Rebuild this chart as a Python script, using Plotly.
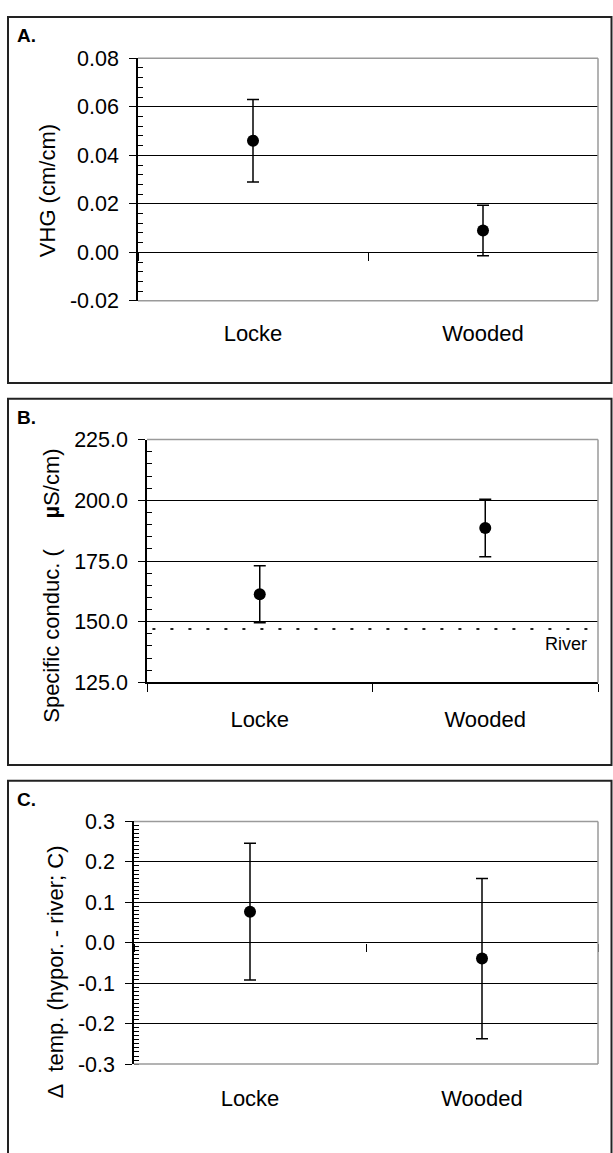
import plotly.graph_objects as go

# ---------------- data ----------------
categories = ["Locke", "Wooded"]

vhg_mean = [0.046, 0.009]
vhg_err = [0.017, 0.0104]

cond_mean = [161.3, 188.6]
cond_err = [11.7, 11.8]
river_cond = 147.0

dtemp_mean = [0.077, -0.039]
dtemp_err = [0.169, 0.198]

vhg_ticks = [-0.02, 0.00, 0.02, 0.04, 0.06, 0.08]
vhg_ticktext = ["-0.02", "0.00", "0.02", "0.04", "0.06", "0.08"]
cond_ticks = [125.0, 150.0, 175.0, 200.0, 225.0]
cond_ticktext = ["125.0", "150.0", "175.0", "200.0", "225.0"]
dtemp_ticks = [-0.3, -0.2, -0.1, 0.0, 0.1, 0.2, 0.3]
dtemp_ticktext = ["-0.3", "-0.2", "-0.1", "0.0", "0.1", "0.2", "0.3"]

panel_labels = ["A.", "B.", "C."]
y_titles = [
    "VHG (cm/cm)",
    "Specific conduc. (\u00a0\u00a0\u00a0\u00a0\u00a0<b>\u00b5</b>S/cm)",
    "\u0394\u00a0\u00a0temp. (hypor. - river; C)",
]
y_ranges = [[-0.02, 0.08], [125.0, 225.0], [-0.3, 0.3]]
y_minor = [0.004, 5.0, 0.01]

# ---------------- layout geometry (pixels) ----------------
W, H = 613, 1153
FONT = "Liberation Sans, Arial, sans-serif"


def px(x):
    return x / W


def py(y):
    return 1 - y / H


plot_boxes = [  # left, right, top, bottom in px
    (138, 598, 48.3, 296.0),
    (147, 598, 437.7, 685.7),
    (134, 598, 827.7, 1075.5),
]
frame_tops = [6, 396, 786]
frame_bottoms = [380, 770, 1170]
title_centers = [(47, 184), (52, 587), (56, 982)]

fig = go.Figure()

means = [vhg_mean, cond_mean, dtemp_mean]
errs = [vhg_err, cond_err, dtemp_err]
tickvals = [vhg_ticks, cond_ticks, dtemp_ticks]
ticktexts = [vhg_ticktext, cond_ticktext, dtemp_ticktext]

shapes = []
annotations = []

for i in range(3):
    n = "" if i == 0 else str(i + 1)
    xa, ya = "x" + n, "y" + n
    l, r, t, b = plot_boxes[i]
    ymin, ymax = y_ranges[i]

    fig.add_trace(go.Scatter(
        x=categories, y=means[i], xaxis=xa, yaxis=ya, mode="markers",
        marker=dict(color="black", size=12, symbol="circle"),
        error_y=dict(type="data", array=errs[i], symmetric=True,
                     color="black", thickness=1.5, width=6),
        showlegend=False, hoverinfo="skip",
    ))

    # x axis: crosses at 0 for A and C, at bottom for B
    plot_h = b - t
    if ymin < 0 < ymax:
        zero_frac = (0 - ymin) / (ymax - ymin)
        zero_px = b - zero_frac * plot_h
        xaxis = dict(anchor="free", position=py(zero_px), showline=False,
                     ticklabelstandoff=int(round((b - zero_px) + 16)))
    else:
        xaxis = dict(anchor=ya, showline=True, linecolor="black", linewidth=1.5,
                     ticklabelstandoff=16)
    xaxis.update(
        domain=[px(l), px(r)], type="category", categoryorder="array",
        categoryarray=categories, range=[-0.5, 1.5], tickson="boundaries",
        ticks="outside", ticklen=8, tickwidth=1, tickcolor="black",
        showgrid=False, zeroline=False,
        tickfont=dict(family=FONT, size=22, color="black"),
    )
    fig.layout["xaxis" + n] = xaxis

    fig.layout["yaxis" + n] = dict(
        domain=[py(b), py(t)], anchor=xa, range=y_ranges[i],
        tickmode="array", tickvals=tickvals[i], ticktext=ticktexts[i],
        ticks="outside", ticklen=7, tickwidth=1, tickcolor="black",
        showline=True, linecolor="black", linewidth=1.5,
        showgrid=True, gridcolor="black", gridwidth=1, zeroline=False,
        ticklabelstandoff=6,
        tickfont=dict(family=FONT, size=21.5, color="black"),
        minor=dict(tickmode="linear", dtick=y_minor[i], tick0=0,
                   ticks="inside", ticklen=5, tickwidth=1,
                   tickcolor="black", showgrid=False),
    )

    # grey plot-area border (top, right, bottom)
    edge = dict(type="line", xref=xa + " domain", yref=ya + " domain",
                line=dict(color="#9a9a9a", width=1.5), layer="above")
    shapes.append(dict(edge, x0=0, x1=1, y0=1, y1=1))
    shapes.append(dict(edge, x0=1, x1=1, y0=0, y1=1))
    if ymin < 0 < ymax:
        shapes.append(dict(edge, x0=0, x1=1, y0=0, y1=0))

    # outer panel frame
    shapes.append(dict(type="rect", xref="paper", yref="paper",
                       x0=px(8), x1=px(611.5), y0=py(frame_bottoms[i]),
                       y1=py(frame_tops[i]),
                       line=dict(color="#222222", width=2), layer="below"))

    # panel letter
    annotations.append(dict(text="<b>%s</b>" % panel_labels[i], xref="paper",
                            yref="paper", x=px(15), y=py(frame_tops[i] + 19),
                            xanchor="left", yanchor="middle", showarrow=False,
                            font=dict(family=FONT, size=19, color="black")))
    # y title
    cx, cy = title_centers[i]
    annotations.append(dict(text=y_titles[i], xref="paper", yref="paper",
                            x=px(cx), y=py(cy), xanchor="center",
                            yanchor="middle", textangle=-90, showarrow=False,
                            font=dict(family=FONT, size=22, color="black")))

# river reference line in panel B
shapes.append(dict(type="line", xref="x2 domain", yref="y2", x0=0.012, x1=0.995,
                   y0=river_cond, y1=river_cond,
                   line=dict(color="#222222", width=2, dash="3px,15px")))
annotations.append(dict(text="River", xref="x2 domain", yref="y2", x=1,
                        y=river_cond, xanchor="right", yanchor="top",
                        xshift=-9, yshift=-3, showarrow=False,
                        font=dict(family=FONT, size=18, color="black")))

fig.update_layout(
    width=W, height=H, margin=dict(l=0, r=0, t=0, b=0),
    paper_bgcolor="white", plot_bgcolor="white",
    shapes=shapes, annotations=annotations, showlegend=False,
)

fig.write_html("out.html")
